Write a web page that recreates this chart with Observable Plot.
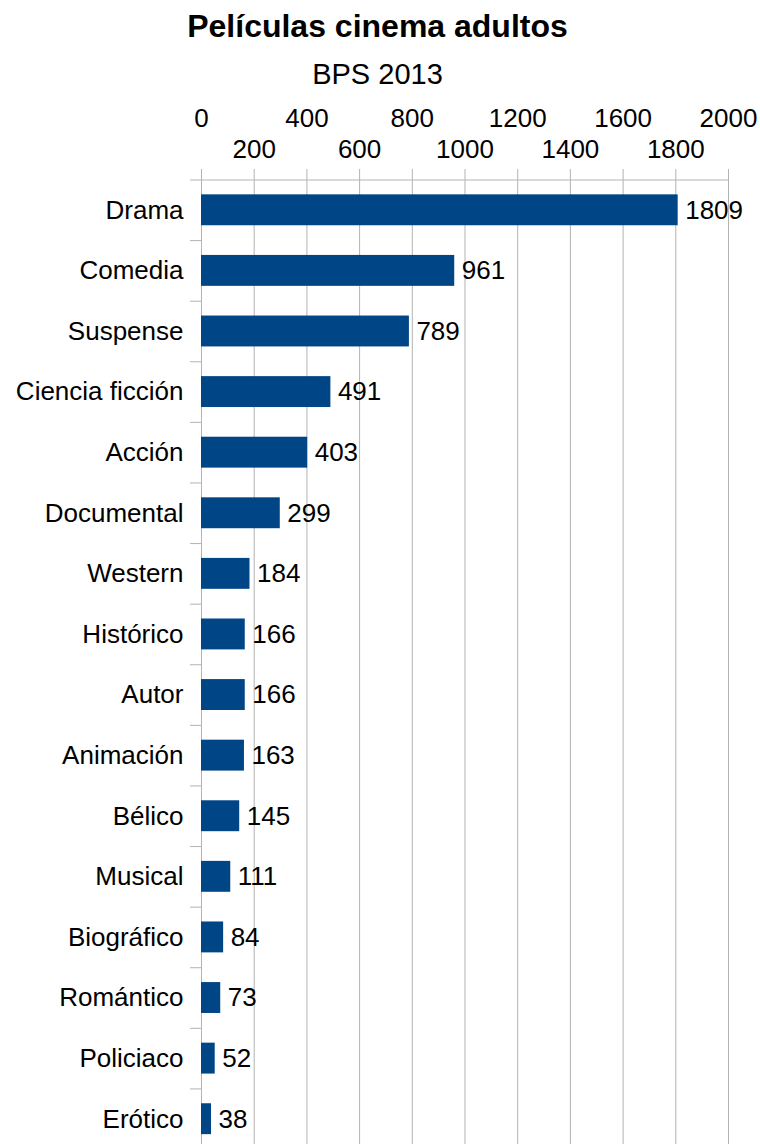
<!DOCTYPE html>
<html>
<head>
<meta charset="utf-8">
<script src="https://cdn.jsdelivr.net/npm/d3@7"></script>
<script src="https://cdn.jsdelivr.net/npm/@observablehq/plot@0.6"></script>
<style>
  html, body { margin: 0; padding: 0; background: #fff; overflow: hidden; }
  body { width: 760px; height: 1144px; font-family: "Liberation Sans", Arial, sans-serif; color: #000; }
  .title { width: 755px; text-align: center; font-weight: 700; font-size: 32px; line-height: 48px; padding-top: 2px; }
  .subtitle { width: 755px; text-align: center; font-size: 29px; line-height: 48px; }
  svg { display: block; max-width: none !important; }
</style>
</head>
<body>
<div class="title">Películas cinema adultos</div>
<div class="subtitle">BPS 2013</div>
<div id="chart"></div>
<script>
const categories = ["Drama","Comedia","Suspense","Ciencia ficción","Acción","Documental","Western","Histórico","Autor","Animación","Bélico","Musical","Biográfico","Romántico","Policiaco","Erótico"];
const values = [1809, 961, 789, 491, 403, 299, 184, 166, 166, 163, 145, 111, 84, 73, 52, 38];
const topRowTicks = [0, 400, 800, 1200, 1600, 2000];
const bottomRowTicks = [200, 600, 1000, 1400, 1800];
const gridTicks = [0, 200, 400, 600, 800, 1000, 1200, 1400, 1600, 1800, 2000];

const data = categories.map((c, i) => ({category: c, value: values[i]}));

const marginTop = 81.5, marginBottom = 6, height = 1057;
const step = (height - marginTop - marginBottom) / categories.length;
const grid = "#b3b3b3";

const chart = Plot.plot({
  width: 760,
  height,
  marginTop,
  marginBottom,
  marginLeft: 201,
  marginRight: 32,
  style: {fontFamily: "Liberation Sans, Arial, sans-serif", fontSize: "26px", color: "#000", background: "#fff", overflow: "visible", maxWidth: "none"},
  x: {domain: [0, 2000], axis: null},
  y: {domain: categories, paddingInner: 0.49, paddingOuter: 0.245, round: false, axis: null},
  marks: [
    Plot.ruleX(gridTicks, {x: d => d, stroke: grid, strokeWidth: 1, insetTop: -10.5}),
    Plot.ruleY([categories[0]], {y: d => d, dy: -step / 2, stroke: grid}),
    Plot.axisY({tickSize: 11, dy: -step / 2, stroke: grid, tickFormat: null, label: null}),
    Plot.axisY({tickSize: 0, tickPadding: 18, fontSize: 26, fill: "#000", label: null}),
    Plot.text(topRowTicks, {x: d => d, text: d => String(d), frameAnchor: "top", lineAnchor: "bottom", dy: -53.5, fontSize: 26, fill: "#000"}),
    Plot.text(bottomRowTicks, {x: d => d, text: d => String(d), frameAnchor: "top", lineAnchor: "bottom", dy: -22.5, fontSize: 26, fill: "#000"}),
    Plot.barX(data, {x: "value", y: "category", fill: "#004586"}),
    Plot.text(data, {x: "value", y: "category", text: d => String(d.value), textAnchor: "start", dx: 7, fontSize: 26, fill: "#000"})
  ]
});
document.getElementById("chart").appendChild(chart);
</script>
</body>
</html>
